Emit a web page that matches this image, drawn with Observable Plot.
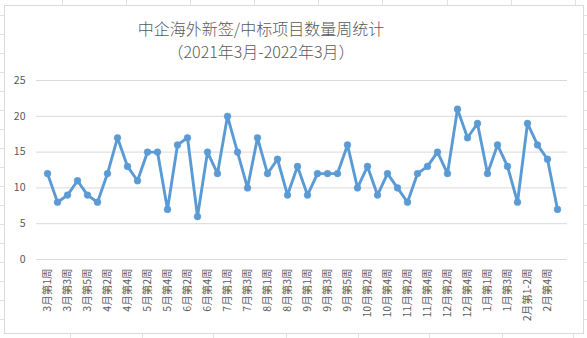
<!DOCTYPE html>
<html>
<head>
<meta charset="utf-8">
<script src="https://cdn.jsdelivr.net/npm/d3@7"></script>
<script src="https://cdn.jsdelivr.net/npm/@observablehq/plot@0.6"></script>
<style>
  html, body { margin: 0; padding: 0; background: #fff; }
  #wrap { position: relative; width: 587px; height: 338px; overflow: hidden; background: #fff; }
  #sheet { position: absolute; left: 0; top: 0; }
  #box { position: absolute; left: 4px; top: 5px; width: 578px; height: 327px; border: 1px solid #d9d9d9; background: #fff; }
  .title { position: absolute; left: 0; width: 522px; text-align: center; font-family: "Noto Sans CJK SC", sans-serif; font-weight: 300; color: #595959; font-size: 16px; line-height: 20px; }
  #chart { position: absolute; left: 0; top: 0; }
</style>
</head>
<body>
<div id="wrap">
  <svg id="sheet" width="587" height="338"></svg>
  <div id="box"></div>
  <div class="title" style="top:18px">中企海外新签/中标项目数量周统计</div>
  <div class="title" style="top:41px">（2021年3月-2022年3月）</div>
  <div id="chart"></div>
</div>
<script>
const weeks = [
  "3月第1周","3月第2周","3月第3周","3月第4周","3月第5周",
  "4月第1周","4月第2周","4月第3周","4月第4周",
  "5月第1周","5月第2周","5月第3周","5月第4周",
  "6月第1周","6月第2周","6月第3周","6月第4周","6月第5周",
  "7月第1周","7月第2周","7月第3周","7月第4周",
  "8月第1周","8月第2周","8月第3周","8月第4周",
  "9月第1周","9月第2周","9月第3周","9月第4周","9月第5周",
  "10月第1周","10月第2周","10月第3周","10月第4周",
  "11月第1周","11月第2周","11月第3周","11月第4周",
  "12月第1周","12月第2周","12月第3周","12月第4周","12月第5周",
  "1月第1周","1月第2周","1月第3周","1月第4周",
  "2月第1-2周","2月第3周","2月第4周",
  "3月第1周"
];
const counts = [
  12, 8, 9, 11, 9, 8, 12, 17, 13, 11,
  15, 15, 7, 16, 17, 6, 15, 12, 20, 15,
  10, 17, 12, 14, 9, 13, 9, 12, 12, 12,
  16, 10, 13, 9, 12, 10, 8, 12, 13, 15,
  12, 21, 17, 19, 12, 16, 13, 8, 19, 16,
  14, 7
];
const yTicks = [0, 5, 10, 15, 20, 25];

// spreadsheet cell lines peeking around the chart
const sheet = d3.select("#sheet");
const topColX = [62, 126, 190, 254, 318, 382, 447, 511, 575];
const botColX = [70, 142, 213, 286, 358, 429, 502, 573];
for (const x of topColX) {
  sheet.append("line").attr("x1", x + 0.5).attr("x2", x + 0.5).attr("y1", 0).attr("y2", 20).attr("stroke", "#e1e1e1");
}
for (const x of botColX) {
  sheet.append("line").attr("x1", x + 0.5).attr("x2", x + 0.5).attr("y1", 320).attr("y2", 338).attr("stroke", "#e1e1e1");
}
for (let y = 15; y < 338; y += 19) {
  sheet.append("line").attr("x1", 0).attr("x2", 587).attr("y1", y + 0.5).attr("y2", y + 0.5).attr("stroke", "#e1e1e1");
}

const data = counts.map((v, i) => ({i, v}));
const chart = Plot.plot({
  width: 587,
  height: 338,
  marginLeft: 36,
  marginRight: 20,
  marginTop: 80,
  marginBottom: 79,
  style: { background: "transparent", fontFamily: "'Noto Sans CJK SC', sans-serif", color: "#595959" },
  x: { type: "point", domain: d3.range(weeks.length), padding: 0.5, label: null },
  y: { domain: [0, 25], label: null },
  marks: [
    Plot.gridY(yTicks, { stroke: "#d9d9d9", strokeOpacity: 1, strokeWidth: 1 }),
    Plot.ruleY([0], { stroke: "#d9d9d9", strokeWidth: 1 }),
    Plot.axisY(yTicks, { tickSize: 0, tickPadding: 11, fontSize: 10.5, fill: "#595959", label: null }),
    Plot.axisX(d3.range(0, weeks.length, 2), { tickSize: 0, tickPadding: 9, tickRotate: -90, fontSize: 10.5, fill: "#595959", tickFormat: i => weeks[i], label: null }),
    Plot.line(data, { x: "i", y: "v", stroke: "#5b9bd5", strokeWidth: 2.9, curve: "linear", strokeLinejoin: "round" }),
    Plot.dot(data, { x: "i", y: "v", r: 3.4, fill: "#5b9bd5", stroke: "#5b9bd5", strokeWidth: 0.5 })
  ]
});
document.getElementById("chart").appendChild(chart);
</script>
</body>
</html>
